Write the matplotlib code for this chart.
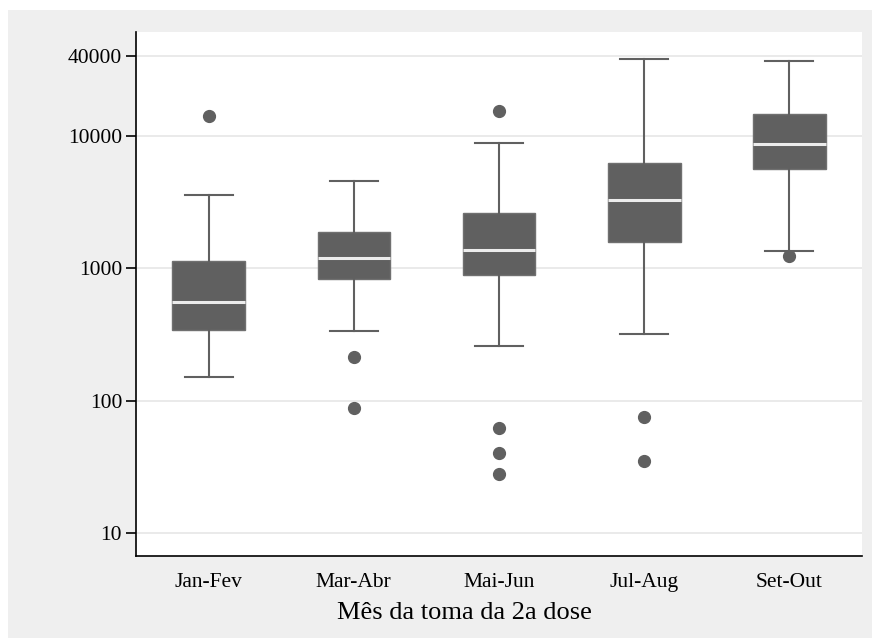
import matplotlib.pyplot as plt
from matplotlib.patches import Rectangle

plt.rcParams['font.family'] = ['Liberation Serif', 'DejaVu Serif']

# box plot summaries per period
meses = ['Jan-Fev', 'Mar-Abr', 'Mai-Jun', 'Jul-Aug', 'Set-Out']
whislo = [150, 336, 260, 321, 1362]
q1 = [341, 833, 893, 1585, 5610]
med = [559, 1186, 1380, 3290, 8654]
q3 = [1133, 1884, 2624, 6226, 14730]
whishi = [3590, 4570, 8855, 38100, 36960]
fliers = [[14160], [215, 88], [15450, 62.5, 40.5, 27.7], [75.7, 34.7], [1228]]

cor = '#606060'

fig = plt.figure(figsize=(8.72, 6.39), dpi=100, facecolor='white')
fig.patches.append(Rectangle((8/872, 1-638/639), 1-8/872, 628/639,
                             transform=fig.transFigure, facecolor='#efefef',
                             edgecolor='none', zorder=-1))
ax = fig.add_axes([136/872, 1-556/639, 726/872, 524/639])
ax.set_facecolor('white')

stats = []
for i in range(len(meses)):
    stats.append({'label': meses[i], 'whislo': whislo[i], 'q1': q1[i],
                  'med': med[i], 'q3': q3[i], 'whishi': whishi[i],
                  'fliers': fliers[i]})

ax.bxp(stats, positions=range(1, 6), widths=0.5, patch_artist=True,
       boxprops=dict(facecolor=cor, edgecolor='#707070', linewidth=1),
       medianprops=dict(color='#ececec', linewidth=2.2),
       whiskerprops=dict(color=cor, linewidth=1.5),
       capprops=dict(color=cor, linewidth=1.5),
       capwidths=0.33,
       flierprops=dict(marker='o', markerfacecolor=cor, markeredgecolor=cor,
                       markersize=8.5))

ax.set_yscale('log')
ax.set_ylim(6.7, 61000)
ax.set_xlim(0.5, 5.5)
ax.set_yticks([10, 100, 1000, 10000, 40000])
ax.set_yticklabels(['10', '100', '1000', '10000', '40000'])
ax.minorticks_off()
ax.yaxis.grid(True, color='#e6e6e6', linewidth=1.2)
ax.set_axisbelow(True)

for s in ['top', 'right']:
    ax.spines[s].set_visible(False)
ax.spines['left'].set_linewidth(1.2)
ax.spines['bottom'].set_linewidth(1.2)

ax.tick_params(axis='y', length=7, width=1.2, labelsize=15.5, pad=3)
ax.tick_params(axis='x', length=0, labelsize=15.5, pad=12)
ax.set_xlabel('Mês da toma da 2a dose', fontsize=19)
ax.xaxis.set_label_coords(0.452, -0.088)
ax.xaxis.label.set_va('top')

fig.savefig('out.png', dpi=100)
